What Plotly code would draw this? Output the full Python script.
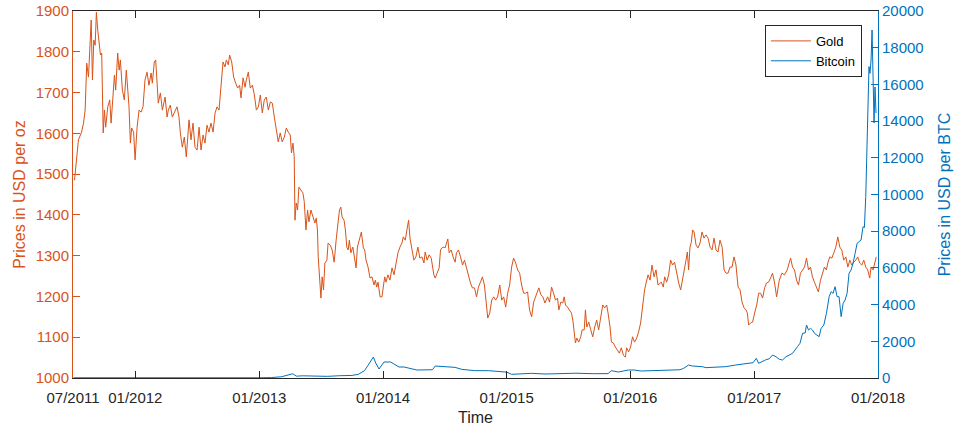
import pandas as pd
import plotly.graph_objects as go

# Gold price (USD per troy ounce); time given as decimal years
gold_t = [
    2011.508, 2011.527, 2011.540, 2011.565, 2011.581, 2011.594, 2011.607, 2011.621, 2011.643, 2011.653,
    2011.664, 2011.675, 2011.685, 2011.696, 2011.707, 2011.718, 2011.728, 2011.740, 2011.750, 2011.760,
    2011.777, 2011.793, 2011.804, 2011.820, 2011.831, 2011.841, 2011.857, 2011.869, 2011.879, 2011.895,
    2011.911, 2011.927, 2011.938, 2011.949, 2011.960, 2011.970, 2011.986, 2011.998, 2012.014, 2012.030,
    2012.046, 2012.062, 2012.078, 2012.094, 2012.110, 2012.127, 2012.137, 2012.153, 2012.164, 2012.175,
    2012.185, 2012.202, 2012.218, 2012.240, 2012.256, 2012.266, 2012.282, 2012.298, 2012.315, 2012.336,
    2012.352, 2012.363, 2012.379, 2012.395, 2012.411, 2012.433, 2012.449, 2012.465, 2012.481, 2012.498,
    2012.514, 2012.530, 2012.546, 2012.562, 2012.578, 2012.594, 2012.610, 2012.627, 2012.643, 2012.659,
    2012.675, 2012.685, 2012.696, 2012.707, 2012.723, 2012.734, 2012.750, 2012.760, 2012.777, 2012.793,
    2012.809, 2012.825, 2012.841, 2012.852, 2012.869, 2012.885, 2012.895, 2012.911, 2012.927, 2012.944,
    2012.960, 2012.976, 2012.992, 2013.008, 2013.024, 2013.040, 2013.056, 2013.073, 2013.089, 2013.105,
    2013.121, 2013.137, 2013.153, 2013.169, 2013.185, 2013.202, 2013.218, 2013.234, 2013.250, 2013.260,
    2013.272, 2013.282, 2013.288, 2013.298, 2013.309, 2013.320, 2013.336, 2013.352, 2013.363, 2013.377,
    2013.390, 2013.401, 2013.417, 2013.433, 2013.449, 2013.460, 2013.470, 2013.476, 2013.486, 2013.498,
    2013.508, 2013.519, 2013.530, 2013.546, 2013.556, 2013.573, 2013.589, 2013.605, 2013.621, 2013.631,
    2013.648, 2013.659, 2013.669, 2013.685, 2013.696, 2013.707, 2013.718, 2013.728, 2013.740, 2013.756,
    2013.766, 2013.782, 2013.793, 2013.809, 2013.825, 2013.841, 2013.852, 2013.863, 2013.879, 2013.895,
    2013.911, 2013.927, 2013.938, 2013.949, 2013.960, 2013.976, 2013.992, 2014.002, 2014.014, 2014.024,
    2014.040, 2014.056, 2014.073, 2014.089, 2014.105, 2014.121, 2014.137, 2014.153, 2014.164, 2014.180,
    2014.196, 2014.207, 2014.218, 2014.234, 2014.250, 2014.266, 2014.282, 2014.298, 2014.315, 2014.331,
    2014.341, 2014.357, 2014.373, 2014.390, 2014.401, 2014.411, 2014.422, 2014.438, 2014.454, 2014.465,
    2014.476, 2014.492, 2014.502, 2014.514, 2014.524, 2014.535, 2014.551, 2014.567, 2014.583, 2014.594,
    2014.610, 2014.627, 2014.643, 2014.659, 2014.675, 2014.691, 2014.707, 2014.723, 2014.740, 2014.756,
    2014.772, 2014.788, 2014.804, 2014.820, 2014.831, 2014.847, 2014.863, 2014.879, 2014.895, 2014.911,
    2014.927, 2014.944, 2014.960, 2014.976, 2014.992, 2015.008, 2015.024, 2015.040, 2015.056, 2015.073,
    2015.089, 2015.105, 2015.121, 2015.137, 2015.153, 2015.169, 2015.185, 2015.202, 2015.218, 2015.234,
    2015.250, 2015.260, 2015.277, 2015.293, 2015.309, 2015.331, 2015.347, 2015.363, 2015.379, 2015.395,
    2015.411, 2015.422, 2015.438, 2015.454, 2015.465, 2015.476, 2015.492, 2015.508, 2015.524, 2015.535,
    2015.546, 2015.556, 2015.567, 2015.583, 2015.599, 2015.610, 2015.627, 2015.637, 2015.648, 2015.664,
    2015.680, 2015.696, 2015.712, 2015.728, 2015.744, 2015.760, 2015.777, 2015.793, 2015.809, 2015.820,
    2015.836, 2015.847, 2015.863, 2015.879, 2015.895, 2015.911, 2015.927, 2015.944, 2015.960, 2015.970,
    2015.986, 2016.002, 2016.018, 2016.034, 2016.051, 2016.067, 2016.083, 2016.094, 2016.105, 2016.115,
    2016.127, 2016.143, 2016.159, 2016.175, 2016.191, 2016.207, 2016.223, 2016.250, 2016.266, 2016.277,
    2016.293, 2016.309, 2016.325, 2016.341, 2016.357, 2016.373, 2016.390, 2016.406, 2016.422, 2016.438,
    2016.449, 2016.460, 2016.470, 2016.481, 2016.492, 2016.502, 2016.514, 2016.530, 2016.546, 2016.562,
    2016.578, 2016.594, 2016.610, 2016.627, 2016.643, 2016.659, 2016.675, 2016.691, 2016.707, 2016.723,
    2016.740, 2016.756, 2016.772, 2016.788, 2016.804, 2016.820, 2016.836, 2016.852, 2016.869, 2016.885,
    2016.901, 2016.917, 2016.933, 2016.944, 2016.954, 2016.970, 2016.986, 2017.002, 2017.019, 2017.035,
    2017.051, 2017.067, 2017.083, 2017.099, 2017.115, 2017.131, 2017.147, 2017.164, 2017.180, 2017.202,
    2017.223, 2017.244, 2017.266, 2017.282, 2017.293, 2017.309, 2017.325, 2017.341, 2017.357, 2017.373,
    2017.390, 2017.406, 2017.422, 2017.438, 2017.454, 2017.470, 2017.486, 2017.502, 2017.518, 2017.535,
    2017.551, 2017.567, 2017.583, 2017.594, 2017.610, 2017.627, 2017.643, 2017.659, 2017.675, 2017.691,
    2017.707, 2017.723, 2017.740, 2017.756, 2017.772, 2017.788, 2017.804, 2017.820, 2017.836, 2017.852,
    2017.869, 2017.885, 2017.901, 2017.917, 2017.933, 2017.944, 2017.960, 2017.976, 2017.986,
]
gold_usd = [
    1485, 1552, 1584, 1603, 1625, 1657, 1772, 1738, 1878, 1731,
    1829, 1816, 1897, 1853, 1821, 1792, 1797, 1601, 1657, 1615,
    1665, 1682, 1625, 1699, 1743, 1706, 1797, 1755, 1780, 1706,
    1682, 1755, 1713, 1665, 1576, 1613, 1603, 1535, 1615, 1657,
    1652, 1665, 1731, 1750, 1718, 1748, 1723, 1775, 1780, 1713,
    1674, 1699, 1657, 1689, 1640, 1657, 1669, 1640, 1650, 1665,
    1640, 1601, 1566, 1591, 1542, 1633, 1584, 1625, 1566, 1559,
    1615, 1559, 1596, 1576, 1620, 1603, 1625, 1603, 1650, 1665,
    1657, 1699, 1736, 1775, 1763, 1780, 1768, 1792, 1775, 1738,
    1723, 1711, 1718, 1687, 1736, 1713, 1731, 1750, 1711, 1718,
    1694, 1657, 1665, 1694, 1650, 1682, 1689, 1657, 1677, 1674,
    1640, 1608, 1579, 1601, 1579, 1591, 1613, 1603, 1596, 1552,
    1576, 1542, 1387, 1429, 1412, 1468, 1461, 1454, 1433, 1363,
    1412, 1383, 1412, 1395, 1380, 1392, 1363, 1297, 1257, 1196,
    1248, 1216, 1282, 1289, 1331, 1326, 1314, 1284, 1338, 1370,
    1412, 1419, 1395, 1387, 1363, 1321, 1314, 1338, 1307, 1321,
    1297, 1270, 1321, 1338, 1358, 1319, 1314, 1289, 1272, 1245,
    1248, 1228, 1240, 1223, 1235, 1199, 1199, 1223, 1248, 1235,
    1253, 1240, 1270, 1253, 1284, 1307, 1321, 1331, 1346, 1338,
    1368, 1387, 1343, 1314, 1289, 1297, 1321, 1294, 1297, 1282,
    1309, 1289, 1302, 1294, 1272, 1253, 1245, 1260, 1270, 1314,
    1319, 1321, 1319, 1331, 1341, 1307, 1314, 1297, 1284, 1307,
    1314, 1297, 1277, 1289, 1270, 1253, 1233, 1221, 1221, 1199,
    1223, 1235, 1248, 1228, 1199, 1147, 1159, 1191, 1199, 1191,
    1199, 1228, 1191, 1199, 1174, 1208, 1228, 1272, 1294, 1282,
    1265, 1257, 1228, 1208, 1208, 1211, 1167, 1150, 1186, 1199,
    1208, 1221, 1204, 1199, 1184, 1199, 1186, 1223, 1208, 1191,
    1196, 1167, 1186, 1184, 1199, 1179, 1174, 1167, 1159, 1142,
    1101, 1086, 1098, 1088, 1101, 1118, 1118, 1167, 1125, 1137,
    1118, 1101, 1125, 1142, 1118, 1150, 1179, 1172, 1179, 1159,
    1125, 1088, 1086, 1076, 1069, 1061, 1074, 1056, 1051, 1074,
    1064, 1076, 1101, 1088, 1098, 1113, 1135, 1167, 1191, 1216,
    1233, 1253, 1240, 1277, 1248, 1265, 1228, 1235, 1223, 1248,
    1235, 1253, 1289, 1277, 1284, 1257, 1233, 1216, 1240, 1270,
    1289, 1309, 1265, 1321, 1333, 1363, 1358, 1326, 1319, 1331,
    1358, 1343, 1351, 1343, 1321, 1314, 1343, 1314, 1309, 1338,
    1321, 1265, 1257, 1257, 1272, 1272, 1297, 1277, 1223, 1216,
    1186, 1172, 1167, 1159, 1130, 1135, 1137, 1159, 1179, 1208,
    1208, 1196, 1221, 1233, 1235, 1245, 1257, 1233, 1199, 1240,
    1257, 1253, 1265, 1282, 1294, 1272, 1265, 1240, 1228, 1257,
    1265, 1272, 1294, 1265, 1272, 1248, 1235, 1223, 1211, 1240,
    1257, 1272, 1265, 1282, 1297, 1294, 1307, 1321, 1346, 1321,
    1314, 1289, 1297, 1272, 1289, 1277, 1284, 1289, 1297, 1282,
    1277, 1289, 1272, 1265, 1245, 1272, 1265, 1282, 1297,
]

# Bitcoin price (USD per BTC); time given as decimal years
btc_t = [
    2011.500, 2011.550, 2011.600, 2011.700, 2011.800, 2011.900, 2012.000, 2012.100, 2012.200, 2012.400,
    2012.500, 2012.600, 2012.700, 2012.800, 2012.900, 2013.000, 2013.100, 2013.180, 2013.270, 2013.300,
    2013.350, 2013.450, 2013.550, 2013.650, 2013.750, 2013.800, 2013.850, 2013.880, 2013.922, 2013.941,
    2013.968, 2014.008, 2014.062, 2014.129, 2014.169, 2014.274, 2014.355, 2014.400, 2014.422, 2014.500,
    2014.583, 2014.637, 2014.742, 2014.855, 2014.960, 2015.000, 2015.040, 2015.121, 2015.200, 2015.310,
    2015.450, 2015.560, 2015.700, 2015.820, 2015.847, 2015.903, 2015.984, 2016.030, 2016.090, 2016.170,
    2016.270, 2016.400, 2016.430, 2016.470, 2016.500, 2016.580, 2016.610, 2016.770, 2016.850, 2016.930,
    2016.990, 2017.016, 2017.035, 2017.089, 2017.121, 2017.148, 2017.175, 2017.202, 2017.228, 2017.256,
    2017.309, 2017.349, 2017.369, 2017.390, 2017.411, 2017.422, 2017.438, 2017.454, 2017.470, 2017.486,
    2017.502, 2017.524, 2017.540, 2017.562, 2017.583, 2017.605, 2017.621, 2017.637, 2017.653, 2017.669,
    2017.685, 2017.702, 2017.718, 2017.734, 2017.750, 2017.766, 2017.782, 2017.798, 2017.815, 2017.831,
    2017.847, 2017.863, 2017.879, 2017.890, 2017.901, 2017.911, 2017.922, 2017.927, 2017.935, 2017.944,
    2017.952, 2017.960, 2017.968, 2017.976, 2017.984,
]
btc_usd = [
    14, 13, 9, 5, 3, 3, 5, 5, 5, 5,
    7, 11, 12, 11, 13, 13, 25, 70, 230, 100,
    120, 110, 90, 125, 140, 200, 400, 700, 1144, 817,
    490, 872, 872, 600, 600, 436, 436, 450, 654, 600,
    580, 472, 400, 400, 345, 320, 200, 218, 254, 218,
    240, 260, 235, 240, 400, 327, 436, 436, 381, 400,
    420, 450, 527, 708, 654, 618, 563, 618, 708, 763,
    836, 1072, 800, 981, 1050, 1253, 1162, 1017, 981, 1162,
    1344, 1708, 1890, 2434, 2452, 2888, 2616, 2707, 2616, 2434,
    2343, 2252, 2707, 2888, 3525, 4432, 4703, 4614, 4977, 4432,
    4432, 3343, 4070, 4251, 4614, 5704, 5886, 6249, 6794, 7339,
    7430, 7520, 8247, 8200, 9882, 12425, 15150, 16966, 16600, 17330,
    18965, 16076, 13896, 15858, 14441,
]

tick_dates = ["2011-07-01", "2012-01-01", "2013-01-01", "2014-01-01",
              "2015-01-01", "2016-01-01", "2017-01-01", "2018-01-01"]
tick_labels = ["07/2011", "01/2012", "01/2013", "01/2014",
               "01/2015", "01/2016", "01/2017", "01/2018"]


def to_dates(years):
    out = []
    for t in years:
        y = int(t)
        start = pd.Timestamp(year=y, month=1, day=1)
        span = (pd.Timestamp(year=y + 1, month=1, day=1) - start).days
        out.append(start + pd.Timedelta(days=(t - y) * span))
    return out


ORANGE = "#D95319"
BLUE = "#0072BD"
DARK = "#262626"
FONT = "Liberation Sans, Arial, sans-serif"

fig = go.Figure()
fig.add_trace(go.Scatter(x=to_dates(gold_t), y=gold_usd, name="Gold", mode="lines",
                         line=dict(color=ORANGE, width=1), yaxis="y"))
fig.add_trace(go.Scatter(x=to_dates(btc_t), y=btc_usd, name="Bitcoin", mode="lines",
                         line=dict(color=BLUE, width=1), yaxis="y2"))

fig.update_layout(
    width=956, height=430,
    margin=dict(l=73, r=78, t=11, b=52),
    paper_bgcolor="white", plot_bgcolor="white",
    font=dict(family=FONT, size=15, color=DARK),
    xaxis=dict(
        type="date", range=["2011-07-01", "2018-01-01"],
        tickvals=tick_dates, ticktext=tick_labels,
        ticks="inside", ticklen=7, tickcolor=DARK, tickwidth=1,
        showline=True, linecolor=DARK, linewidth=1, mirror="ticks",
        showgrid=False, zeroline=False, automargin=False,
        ticklabelstandoff=6,
        tickfont=dict(size=15, color=DARK),
        title=dict(text="Time", font=dict(size=16, color=DARK), standoff=6),
    ),
    yaxis=dict(
        range=[1000, 1900], tickvals=list(range(1000, 1901, 100)),
        ticks="inside", ticklen=7, tickcolor=ORANGE,
        showline=True, linecolor=ORANGE, linewidth=1,
        showgrid=False, zeroline=False, automargin=False,
        tickfont=dict(size=15, color=ORANGE),
        title=dict(text="Prices in USD per oz", font=dict(size=16, color=ORANGE), standoff=6),
    ),
    yaxis2=dict(
        range=[0, 20000], tickvals=list(range(0, 20001, 2000)),
        tickformat="d",
        overlaying="y", side="right",
        ticks="inside", ticklen=7, tickcolor=BLUE,
        showline=True, linecolor=BLUE, linewidth=1,
        showgrid=False, zeroline=False, automargin=False,
        tickfont=dict(size=15, color=BLUE),
        title=dict(text="Prices in USD per BTC", font=dict(size=16, color=BLUE), standoff=16),
    ),
    legend=dict(
        x=0.98, y=0.962, xanchor="right", yanchor="top",
        bgcolor="white", bordercolor=DARK, borderwidth=1,
        font=dict(size=13, color="black"),
        tracegroupgap=0, itemwidth=40,
    ),
    showlegend=True,
)

fig.write_html("out.html")
